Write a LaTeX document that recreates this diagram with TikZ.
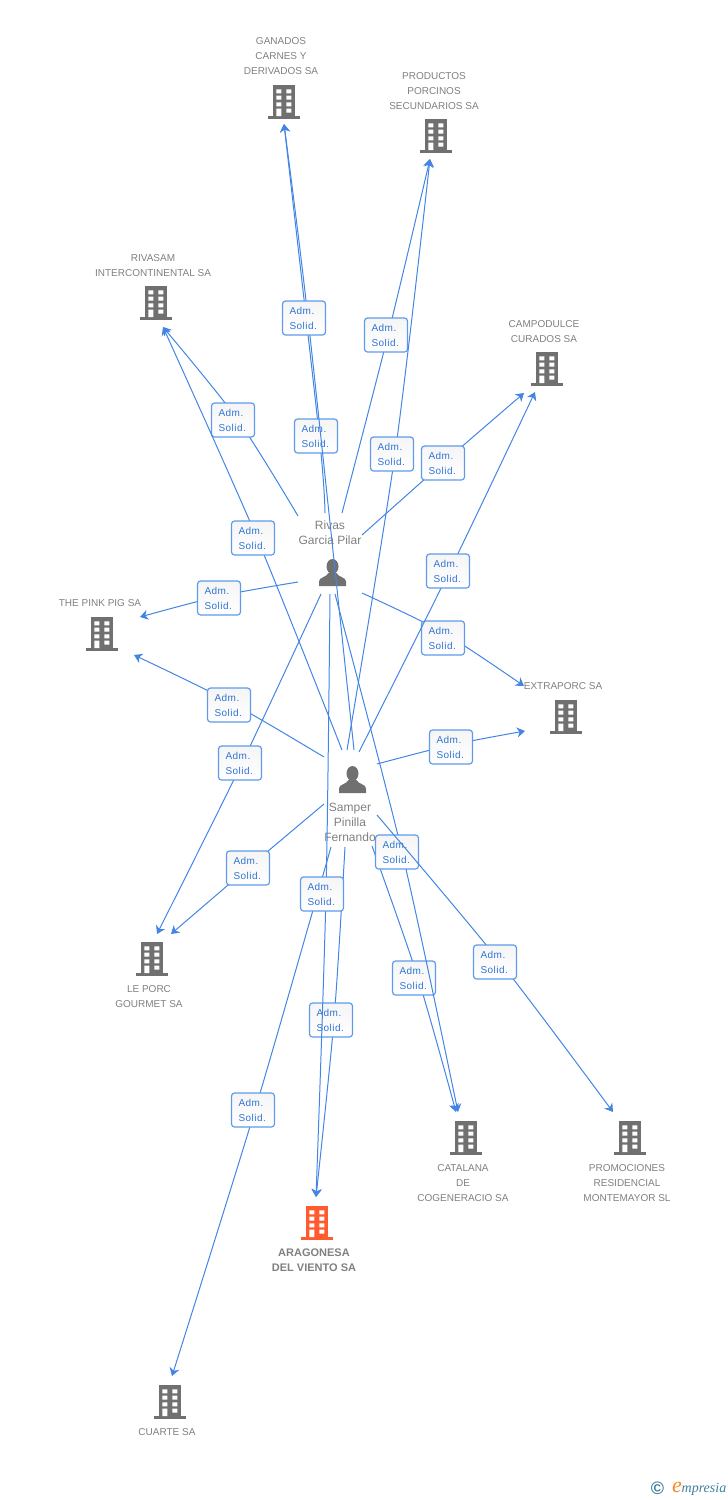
\documentclass[tikz,border=0pt]{standalone}
\usepackage{fontspec}
\setmainfont{Liberation Sans}
\newfontfamily\boxfont[LetterSpace=5]{Liberation Sans}
\newfontfamily\logofont{Liberation Serif}
\usetikzlibrary{arrows.meta}
\definecolor{linkblue}{HTML}{4285E4}
\definecolor{boxedge}{HTML}{5F9BEA}
\definecolor{boxtext}{HTML}{2F74D6}
\definecolor{icongray}{HTML}{707070}
\definecolor{labelgray}{HTML}{808080}
\definecolor{mainorange}{HTML}{FF5B2E}
\definecolor{logoteal}{HTML}{3F7F9C}
\definecolor{logoorange}{HTML}{F5871F}
\tikzset{
  link/.style={draw=linkblue,line width=1pt,-{Stealth[length=8pt,width=10pt,inset=2.5pt]}},
  admbox/.style={draw=boxedge,line width=1.2pt,rounded corners=3pt,top color=white!96!black,bottom color=white,
    text=boxtext,font=\boxfont\fontsize{10}{15}\selectfont,minimum width=43pt,minimum height=34pt,
    inner xsep=7pt,inner ysep=0pt,text width=29pt,align=left},
  complabel/.style={text=labelgray,font=\fontsize{10}{15}\selectfont,align=center,inner sep=0pt},
  mainlabel/.style={text=labelgray,font=\bfseries\fontsize{11}{15}\selectfont,align=center,inner sep=0pt},
  perslabel/.style={text=labelgray,font=\fontsize{12}{15}\selectfont,align=center,inner sep=0pt},
  bldg/.style={minimum width=32pt,minimum height=34pt,inner sep=0pt,path picture={
    \begin{scope}[shift={(path picture bounding box.center)}]
      \fill[#1] (-11,-17) rectangle (11,14);
      \fill[#1] (-16,14) rectangle (16,17);
      \fill[white]
        (-7.7,-12.7) rectangle (-2.7,-8.7) (2.3,-12.7) rectangle (7.3,-8.7)
        (-7.7,-6.3) rectangle (-2.7,-2.3) (2.3,-6.3) rectangle (7.3,-2.3)
        (-7.7,0.3) rectangle (-2.7,4.3) (2.3,0.3) rectangle (7.3,4.3)
        (-7.7,6.7) rectangle (-2.7,14) (2.3,6.7) rectangle (7.3,10.7);
    \end{scope}}},
  persicon/.style={minimum width=28pt,minimum height=28pt,inner sep=0pt,path picture={
    \begin{scope}[shift={(path picture bounding box.center)}]
      \fill[icongray] (0,-6) ellipse [x radius=6,y radius=7.5];
      \fill[icongray] (-13.5,13.5) -- (-13.5,9) .. controls (-13.5,4.5) and (-6,5) .. (-4,0.5)
        -- (4,0.5) .. controls (6,5) and (13.5,4.5) .. (13.5,9) -- (13.5,13.5) -- cycle;
    \end{scope}}}
}
% name, start, point passed on the way, box position, end
\newcommand\lnk[5]{%
  \coordinate (s#1) at (#2);
  \coordinate (v#1) at (#3);
  \coordinate (e#1) at (#5);
  \draw[link] plot[smooth,tension=0.5] coordinates {(s#1) (v#1) (e#1)};
  \node[admbox] (b#1) at (#4) {Adm.\\Solid.};
}
\begin{document}
\begin{tikzpicture}[x=1pt,y=-1pt]
\useasboundingbox (0,0) rectangle (728,1500);
% company icons and labels
\node[bldg=icongray] (ganados) at (284,102) {};
\node[complabel] (lganados) at (281,56.5) {GANADOS\\CARNES Y\\DERIVADOS SA};
\node[bldg=icongray] (productos) at (436,136) {};
\node[complabel] (lproductos) at (434,91.5) {PRODUCTOS\\PORCINOS\\SECUNDARIOS SA};
\node[bldg=icongray] (rivasam) at (156,303) {};
\node[complabel] (lrivasam) at (153,266) {RIVASAM\\INTERCONTINENTAL SA};
\node[bldg=icongray] (campo) at (547,369) {};
\node[complabel] (lcampo) at (544,332) {CAMPODULCE\\CURADOS SA};
\node[bldg=icongray] (pink) at (102,634) {};
\node[complabel] (lpink) at (100,603.5) {THE PINK PIG SA};
\node[bldg=icongray] (extra) at (566,717) {};
\node[complabel] (lextra) at (563,686.5) {EXTRAPORC SA};
\node[bldg=icongray] (leporc) at (152,959) {};
\node[complabel] (lleporc) at (149,997) {LE PORC\\GOURMET SA};
\node[bldg=icongray] (catalana) at (466,1138) {};
\node[complabel] (lcatalana) at (463,1183.5) {CATALANA\\DE\\COGENERACIO SA};
\node[bldg=icongray] (promo) at (630,1138) {};
\node[complabel] (lpromo) at (627,1183.5) {PROMOCIONES\\RESIDENCIAL\\MONTEMAYOR SL};
\node[bldg=mainorange] (aragon) at (317,1223) {};
\node[mainlabel] (laragon) at (314,1260.5) {ARAGONESA\\DEL VIENTO SA};
\node[bldg=icongray] (cuarte) at (170,1402) {};
\node[complabel] (lcuarte) at (167,1432.5) {CUARTE SA};
% persons
\node[persicon] (rivas) at (332.5,572.5) {};
\node[perslabel] (lrivas) at (330,532.5) {Rivas\\Garcia Pilar};
\node[persicon] (samper) at (352.5,779.5) {};
\node[perslabel] (lsamper) at (350,822) {Samper\\Pinilla\\Fernando};
% connectors and their boxes
\lnk{ra}{325,513}{319.3,436}{316,436}{284,124}
\lnk{rb}{342,513}{388,335}{386,335}{430,159}
\lnk{rc}{298,516}{238,420}{233,420}{163,327}
\lnk{rd}{362,535}{443,463}{443,463}{524,393}
\lnk{re}{362,593}{443,632.5}{443,638}{524,686}
\lnk{rf}{298,582}{220,596}{219,598}{140,617}
\lnk{rg}{321,594}{242,763}{240,763}{157,934}
\lnk{sa}{354,750}{308,318}{304,318}{284,124}
\lnk{sb}{347,750}{395,454}{392,454}{430,159}
\lnk{sc}{342,750}{257,538}{253,538}{163,327}
\lnk{sd}{359,752}{449.5,571}{448,571}{535,392}
\lnk{se}{377,764}{451,745}{451,747}{525,731}
\lnk{sf}{324,757}{229,701.5}{229,705}{134,655}
\lnk{sg}{324,804}{248,868}{248,868}{171,934}
\lnk{sh}{345,847}{334,1020}{331,1020}{316,1197}
\lnk{si}{331,847}{255,1110}{253,1110}{172,1376}
\lnk{sj}{372,846}{418,978}{414,978}{456,1112}
\lnk{rh}{330,594}{326,894}{322,894}{316,1197}
\lnk{ri}{335,594}{402,852}{397,852}{458,1112}
\lnk{sk}{377,815}{500,962}{495,962}{613,1112}
% logo
\node[text=logoteal,font=\bfseries\fontsize{18}{18}\selectfont,inner sep=0pt] (logoc) at (657.5,1488.5) {©};
\node[text=logoorange,font=\logofont\itshape\fontsize{22}{22}\selectfont,inner sep=0pt] (logoe) at (677,1487) {e};
\node[text=logoteal,font=\logofont\itshape\fontsize{14}{14}\selectfont,inner sep=0pt,anchor=west] (logot) at (681.5,1489) {mpresia};
\end{tikzpicture}
\end{document}
